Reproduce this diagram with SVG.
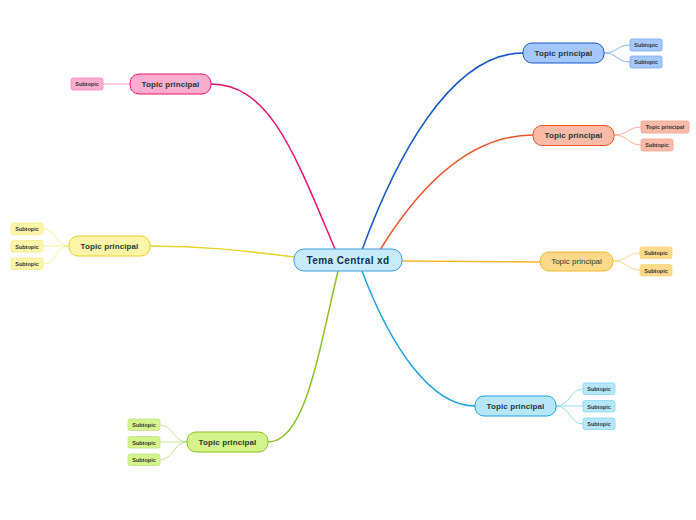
<svg xmlns="http://www.w3.org/2000/svg" width="696" height="520" viewBox="0 0 696 520">
<style>
text{font-family:"Liberation Sans",Arial,sans-serif;text-anchor:middle;dominant-baseline:central;fill:#1b3b36}
.c{font-size:10px;font-weight:bold;fill:#14304a;letter-spacing:0.4px}
.t{font-size:8px;font-weight:bold;letter-spacing:0.1px}
.tn{font-size:8px}
.s{font-size:5.5px;fill:#333;font-weight:bold}
.l{fill:none;stroke-width:1.5}
.sl{fill:none;stroke-width:0.9}
</style>
<rect width="696" height="520" fill="#ffffff"/>
<g id="connectors">
<path class="l" stroke="#1659c7" d="M362,250 C395,160 450,53 523,53"/>
<path class="l" stroke="#e8552a" d="M380,250 C420,185 470,135 533,135"/>
<path class="l" stroke="#f5b82e" d="M402,261 C460,261 500,262 540,262"/>
<path class="l" stroke="#1aa3e0" d="M362,271 C390,345 430,406 475,406"/>
<path class="l" stroke="#e8156f" d="M335,249 C295,155 270,84 211,84"/>
<path class="l" stroke="#e9d22a" d="M294,257 C240,250 200,246 150,246"/>
<path class="l" stroke="#8cc123" d="M338,271 C318,355 305,442 268,442"/>
<g stroke="#7fa8ee">
<path class="sl" d="M604,53 C617,53 617,45 630,45"/>
<path class="sl" d="M604,53 C617,53 617,62 630,62"/>
</g>
<g stroke="#f5a48a">
<path class="sl" d="M614,135 C628,135 628,127 641,127"/>
<path class="sl" d="M614,135 C628,135 628,145 641,145"/>
</g>
<g stroke="#fcd57a">
<path class="sl" d="M613,261 C627,261 627,253 640,253"/>
<path class="sl" d="M613,261 C627,261 627,270 640,270"/>
</g>
<g stroke="#8ad6f5">
<path class="sl" d="M556,406 C570,406 570,389 583,389"/>
<path class="sl" d="M556,406 C570,406 570,406 583,406"/>
<path class="sl" d="M556,406 C570,406 570,424 583,424"/>
</g>
<g stroke="#f58cbd">
<path class="sl" d="M130,84 C117,84 116,84 103,84"/>
</g>
<g stroke="#f5eb8a">
<path class="sl" d="M69,246 C56,246 56,229 43,229"/>
<path class="sl" d="M69,246 C56,246 56,246 43,246"/>
<path class="sl" d="M69,246 C56,246 56,264 43,264"/>
</g>
<g stroke="#bfe38a">
<path class="sl" d="M187,442 C174,442 173,425 160,425"/>
<path class="sl" d="M187,442 C174,442 173,442 160,442"/>
<path class="sl" d="M187,442 C174,442 173,460 160,460"/>
</g>
</g>
<g id="central"><rect x="294" y="249" width="108" height="22" rx="10" fill="#c8ecfb" stroke="#3d9ad6" stroke-width="1"/><text class="c" x="348" y="260">Tema Central xd</text></g>
<g id="topic-blue"><rect x="523" y="43" width="81" height="20" rx="9" fill="#a4c8fb" stroke="#1659c7"/><text class="t" x="563.5" y="53">Topic principal</text></g>
<g id="sub-blue-1"><rect x="630" y="39" width="32" height="12" rx="2" fill="#a4c8fb" stroke="#7fa8ee" stroke-width="0.8"/><text class="s" x="646" y="45">Subtopic</text></g>
<g id="sub-blue-2"><rect x="630" y="56" width="32" height="12" rx="2" fill="#a4c8fb" stroke="#7fa8ee" stroke-width="0.8"/><text class="s" x="646" y="62">Subtopic</text></g>
<g id="topic-red"><rect x="533" y="125.5" width="81" height="20" rx="9" fill="#f9bba8" stroke="#e8552a"/><text class="t" x="573.5" y="135.5">Topic principal</text></g>
<g id="sub-red-1"><rect x="641" y="121" width="48" height="12" rx="2" fill="#f9bba8" stroke="#f5a48a" stroke-width="0.8"/><text class="s" x="665" y="127">Topic principal</text></g>
<g id="sub-red-2"><rect x="641" y="139" width="32" height="12" rx="2" fill="#f9bba8" stroke="#f5a48a" stroke-width="0.8"/><text class="s" x="657" y="145">Subtopic</text></g>
<g id="topic-orange"><rect x="540" y="252" width="73" height="19" rx="9" fill="#fdd98a" stroke="#f5b82e"/><text class="tn" x="576.5" y="261.5">Topic principal</text></g>
<g id="sub-orange-1"><rect x="640" y="247" width="32" height="11.5" rx="2" fill="#fdd98a" stroke="#fcd57a" stroke-width="0.8"/><text class="s" x="656" y="253">Subtopic</text></g>
<g id="sub-orange-2"><rect x="640" y="264.5" width="32" height="11.5" rx="2" fill="#fdd98a" stroke="#fcd57a" stroke-width="0.8"/><text class="s" x="656" y="270.5">Subtopic</text></g>
<g id="topic-cyan"><rect x="475" y="396" width="81" height="20" rx="9" fill="#b5e6fa" stroke="#1aa3e0"/><text class="t" x="515.5" y="406">Topic principal</text></g>
<g id="sub-cyan-1"><rect x="583" y="383" width="32" height="11.5" rx="2" fill="#b5e6fa" stroke="#8ad6f5" stroke-width="0.8"/><text class="s" x="599" y="389">Subtopic</text></g>
<g id="sub-cyan-2"><rect x="583" y="400.5" width="32" height="11.5" rx="2" fill="#b5e6fa" stroke="#8ad6f5" stroke-width="0.8"/><text class="s" x="599" y="406.5">Subtopic</text></g>
<g id="sub-cyan-3"><rect x="583" y="418" width="32" height="11.5" rx="2" fill="#b5e6fa" stroke="#8ad6f5" stroke-width="0.8"/><text class="s" x="599" y="424">Subtopic</text></g>
<g id="topic-pink"><rect x="130" y="74" width="81" height="20" rx="9" fill="#f9aed0" stroke="#e8156f"/><text class="t" x="170.5" y="84">Topic principal</text></g>
<g id="sub-pink-1"><rect x="71" y="78" width="32" height="12" rx="2" fill="#f9aed0" stroke="#f58cbd" stroke-width="0.8"/><text class="s" x="87" y="84">Subtopic</text></g>
<g id="topic-yellow"><rect x="69" y="236" width="81" height="20" rx="9" fill="#fdf6a8" stroke="#e9d22a"/><text class="t" x="109.5" y="246">Topic principal</text></g>
<g id="sub-yellow-1"><rect x="11" y="223" width="32" height="11.5" rx="2" fill="#fdf6a8" stroke="#f5eb8a" stroke-width="0.8"/><text class="s" x="27" y="229">Subtopic</text></g>
<g id="sub-yellow-2"><rect x="11" y="240.5" width="32" height="11.5" rx="2" fill="#fdf6a8" stroke="#f5eb8a" stroke-width="0.8"/><text class="s" x="27" y="246.5">Subtopic</text></g>
<g id="sub-yellow-3"><rect x="11" y="258" width="32" height="11.5" rx="2" fill="#fdf6a8" stroke="#f5eb8a" stroke-width="0.8"/><text class="s" x="27" y="264">Subtopic</text></g>
<g id="topic-green"><rect x="187" y="432" width="81" height="20" rx="9" fill="#d4f38a" stroke="#8cc123"/><text class="t" x="227.5" y="442">Topic principal</text></g>
<g id="sub-green-1"><rect x="128" y="419" width="32" height="11.5" rx="2" fill="#d4f38a" stroke="#bfe38a" stroke-width="0.8"/><text class="s" x="144" y="425">Subtopic</text></g>
<g id="sub-green-2"><rect x="128" y="436.5" width="32" height="11.5" rx="2" fill="#d4f38a" stroke="#bfe38a" stroke-width="0.8"/><text class="s" x="144" y="442.5">Subtopic</text></g>
<g id="sub-green-3"><rect x="128" y="454" width="32" height="11.5" rx="2" fill="#d4f38a" stroke="#bfe38a" stroke-width="0.8"/><text class="s" x="144" y="460">Subtopic</text></g>
</svg>
